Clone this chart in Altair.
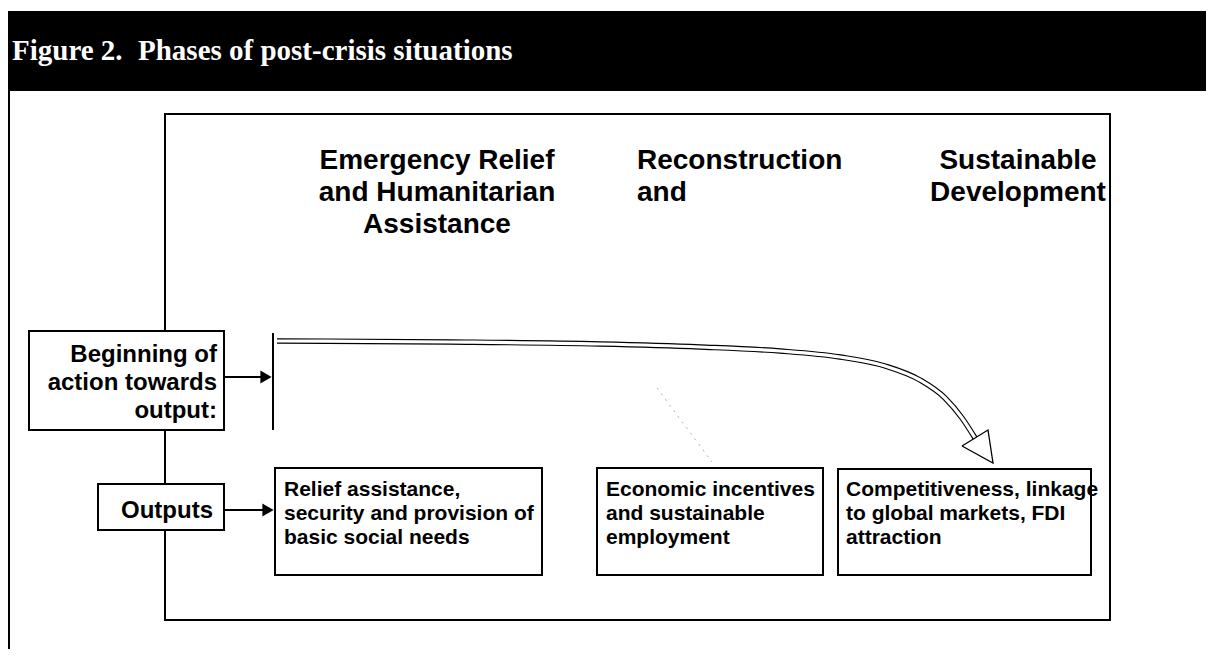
import altair as alt
import pandas as pd

W, H = 1198, 641
X0, Y0 = 8, 8  # page offset

# ---- diagram content ----
title_left = "Figure 2."
title_right = "Phases of post-crisis situations"

# phase headings (centre aligned groups, and a left aligned one)
phase_c_lines = ["Emergency Relief", "and Humanitarian", "Assistance",
                 "Sustainable", "Development"]
phase_c_x = [437, 437, 437, 1018, 1018]
phase_c_y = [169, 201, 233, 169, 201]
phase_l_lines = ["Reconstruction", "and"]
phase_l_x = [637, 637]
phase_l_y = [169, 201]

left_lines = ["Beginning of", "action towards", "output:", "Outputs"]
left_x = [217, 217, 217, 213]
left_y = [362, 390, 418, 518]

out_lines = ["Relief assistance,", "security and provision of", "basic social needs",
             "Economic incentives", "and sustainable", "employment",
             "Competitiveness, linkage", "to global markets, FDI", "attraction"]
out_x = [284, 284, 284, 606, 606, 606, 846, 846, 846]
out_y = [496, 520, 544, 496, 520, 544, 496, 520, 544]

# boxes: outer frame and the labelled boxes
frame = dict(x=[165], x2=[1110], y=[114], y2=[620])
box_x = [29, 98, 275, 597, 838]
box_x2 = [224, 224, 542, 823, 1091]
box_y = [331, 484, 468, 468, 469]
box_y2 = [430, 530, 575, 575, 575]

# straight segments
seg_x = [9, 224, 224, 273]
seg_x2 = [9, 262, 264, 273]
seg_y = [91, 377, 510, 333]
seg_y2 = [649, 377, 510, 430]

# filled arrow heads
head_x = [266, 268]
head_y = [377, 510]

# curved hollow arrow
curve_x = [277, 450, 600, 700, 780, 840, 885, 920, 945, 962, 975]
curve_y = [341, 342, 344, 347, 351, 357, 366, 380, 398, 418, 438]
tri_x = [962, 988, 993, 962]
tri_y = [446, 430, 463, 446]

# faint dotted trace
dot_x = [657, 712]
dot_y = [388, 462]

xs = alt.Scale(domain=[X0, X0 + W], nice=False, zero=False)
ys = alt.Scale(domain=[Y0, Y0 + H], reverse=True, nice=False, zero=False)


def X(f="x"):
    return alt.X(f"{f}:Q", scale=xs, axis=None)


def Y(f="y"):
    return alt.Y(f"{f}:Q", scale=ys, axis=None)


header = alt.Chart(pd.DataFrame(dict(x=[8], x2=[1206], y=[11], y2=[91]))).mark_rect(
    color="black").encode(x=X(), x2="x2:Q", y=Y(), y2="y2:Q")

frame_l = alt.Chart(pd.DataFrame(frame)).mark_rect(
    filled=False, stroke="black", strokeWidth=2).encode(x=X(), x2="x2:Q", y=Y(), y2="y2:Q")

segs = alt.Chart(pd.DataFrame(dict(x=seg_x, x2=seg_x2, y=seg_y, y2=seg_y2))).mark_rule(
    color="black", strokeWidth=2).encode(x=X(), x2="x2:Q", y=Y(), y2="y2:Q")

boxes = alt.Chart(pd.DataFrame(dict(x=box_x, x2=box_x2, y=box_y, y2=box_y2))).mark_rect(
    fill="white", stroke="black", strokeWidth=2).encode(x=X(), x2="x2:Q", y=Y(), y2="y2:Q")

heads = alt.Chart(pd.DataFrame(dict(x=head_x, y=head_y))).mark_point(
    shape="triangle-right", filled=True, color="black", size=170, opacity=1).encode(x=X(), y=Y())

cdf = pd.DataFrame(dict(x=curve_x, y=curve_y, o=list(range(len(curve_x)))))
curve_outer = alt.Chart(cdf).mark_line(color="black", strokeWidth=5.5, interpolate="monotone").encode(
    x=X(), y=Y(), order="o:Q")
curve_inner = alt.Chart(cdf).mark_line(color="white", strokeWidth=3.2, interpolate="monotone").encode(
    x=X(), y=Y(), order="o:Q")

tdf = pd.DataFrame(dict(x=tri_x, y=tri_y, o=list(range(len(tri_x)))))
tri = alt.Chart(tdf).mark_line(color="black", strokeWidth=1.3, strokeJoin="miter").encode(
    x=X(), y=Y(), order="o:Q")

dots = alt.Chart(pd.DataFrame(dict(x=dot_x, y=dot_y, o=[0, 1]))).mark_line(
    color="#888888", strokeWidth=1, strokeDash=[2, 5], opacity=0.7).encode(x=X(), y=Y(), order="o:Q")

SANS = "Liberation Sans"
SERIF = "Liberation Serif"

t_title1 = alt.Chart(pd.DataFrame(dict(t=[title_left], x=[12], y=[60]))).mark_text(
    font=SERIF, fontWeight="bold", fontSize=29, color="white", align="left", baseline="alphabetic").encode(
    x=X(), y=Y(), text="t:N")
t_title2 = alt.Chart(pd.DataFrame(dict(t=[title_right], x=[138], y=[60]))).mark_text(
    font=SERIF, fontWeight="bold", fontSize=29, color="white", align="left", baseline="alphabetic").encode(
    x=X(), y=Y(), text="t:N")

t_phase_c = alt.Chart(pd.DataFrame(dict(t=phase_c_lines, x=phase_c_x, y=phase_c_y))).mark_text(
    font=SANS, fontWeight="bold", fontSize=28, color="black", align="center", baseline="alphabetic").encode(
    x=X(), y=Y(), text="t:N")
t_phase_l = alt.Chart(pd.DataFrame(dict(t=phase_l_lines, x=phase_l_x, y=phase_l_y))).mark_text(
    font=SANS, fontWeight="bold", fontSize=28, color="black", align="left", baseline="alphabetic").encode(
    x=X(), y=Y(), text="t:N")

t_left = alt.Chart(pd.DataFrame(dict(t=left_lines, x=left_x, y=left_y))).mark_text(
    font=SANS, fontWeight="bold", fontSize=24, color="black", align="right", baseline="alphabetic").encode(
    x=X(), y=Y(), text="t:N")

t_out = alt.Chart(pd.DataFrame(dict(t=out_lines, x=out_x, y=out_y))).mark_text(
    font=SANS, fontWeight="bold", fontSize=21, color="black", align="left", baseline="alphabetic").encode(
    x=X(), y=Y(), text="t:N")

chart = alt.layer(
    header, frame_l, segs, boxes, heads, dots,
    curve_outer, curve_inner, tri,
    t_title1, t_title2, t_phase_c, t_phase_l, t_left, t_out,
).properties(
    width=W, height=H, padding=0, autosize=alt.AutoSizeParams(type="none"),
    background="white",
).configure_view(stroke=None)

chart.save("out.html", embed_options={"renderer": "svg", "actions": False})
